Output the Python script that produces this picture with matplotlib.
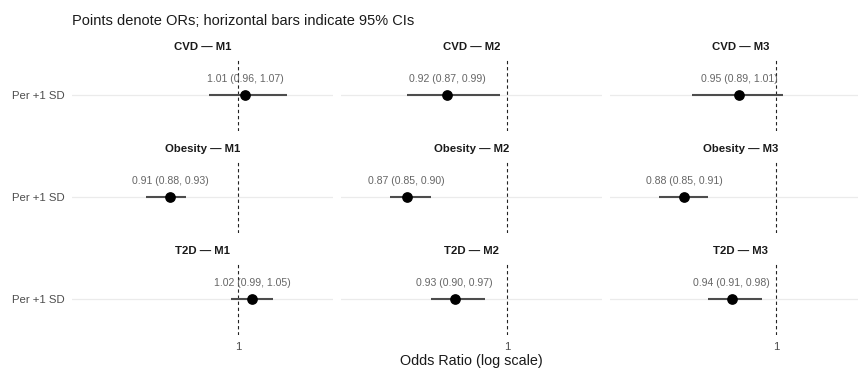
import matplotlib
matplotlib.use('Agg')
import matplotlib.pyplot as plt

plt.rcParams['font.family'] = ['Liberation Sans', 'DejaVu Sans']

outcomes = ['CVD', 'Obesity', 'T2D']
models = ['M1', 'M2', 'M3']
# odds ratios and 95% CI, rows = outcome, cols = model
or_vals = [[1.01, 0.92, 0.95],
           [0.91, 0.87, 0.88],
           [1.02, 0.93, 0.94]]
ci_low = [[0.96, 0.87, 0.89],
          [0.88, 0.85, 0.85],
          [0.99, 0.90, 0.91]]
ci_high = [[1.07, 0.99, 1.01],
           [0.93, 0.90, 0.91],
           [1.05, 0.97, 0.98]]
row_label = 'Per +1 SD'

W, H = 858, 369
fig = plt.figure(figsize=(W / 100, H / 100), dpi=100)

# panel geometry in pixels (last column runs past the right edge, as in the source)
col_left = [72, 341, 610]
row_top = [59, 161, 263]
pw, ph = 261, 72

for i, outc in enumerate(outcomes):
    for j, mod in enumerate(models):
        ax = fig.add_axes([col_left[j] / W, (H - row_top[i] - ph) / H, pw / W, ph / H])
        ax.set_xscale('log')
        ax.set_xlim(0.794, 1.141)
        ax.set_ylim(-0.6, 0.6)
        for s in ax.spines.values():
            s.set_visible(False)
        ax.axhline(0, color='#ebebeb', lw=0.9, zorder=0)
        ax.axvline(1, color='#222222', lw=0.8, ls=(0, (3, 2.5)), zorder=1)

        o, lo, hi = or_vals[i][j], ci_low[i][j], ci_high[i][j]
        ax.plot([lo, hi], [0, 0], color='#4d4d4d', lw=1.5, solid_capstyle='butt', zorder=2)
        ax.plot([o], [0], 'o', color='black', ms=6.7, zorder=3)
        ax.text(o, 0.27, '%.2f (%.2f, %.2f)' % (o, lo, hi), ha='center', va='center',
                fontsize=7.6, color='#666666', zorder=4)

        ax.annotate('%s \u2014 %s' % (outc, mod), xy=(0.5, 1), xycoords='axes fraction',
                    xytext=(0, 8.6), textcoords='offset points', ha='center', va='center',
                    fontsize=8.2, fontweight='bold', color='#1a1a1a')

        ax.minorticks_off()
        if j == 0:
            ax.set_yticks([0])
            ax.set_yticklabels([row_label], fontsize=8.2, color='#4d4d4d')
        else:
            ax.set_yticks([])
        if i == len(outcomes) - 1:
            ax.set_xticks([1])
            ax.set_xticklabels(['1'], fontsize=8.2, color='#4d4d4d')
        else:
            ax.set_xticks([])
        ax.tick_params(axis='y', length=0, pad=5)
        ax.tick_params(axis='x', length=0, pad=5)

fig.text(72 / W, 1 - 21 / H, 'Points denote ORs; horizontal bars indicate 95% CIs',
         ha='left', va='center', fontsize=10.5, color='#1a1a1a')
fig.text(471.5 / W, 1 - 361 / H, 'Odds Ratio (log scale)', ha='center', va='center',
         fontsize=10.4, color='#1a1a1a')

fig.savefig('out.png', dpi=100)
